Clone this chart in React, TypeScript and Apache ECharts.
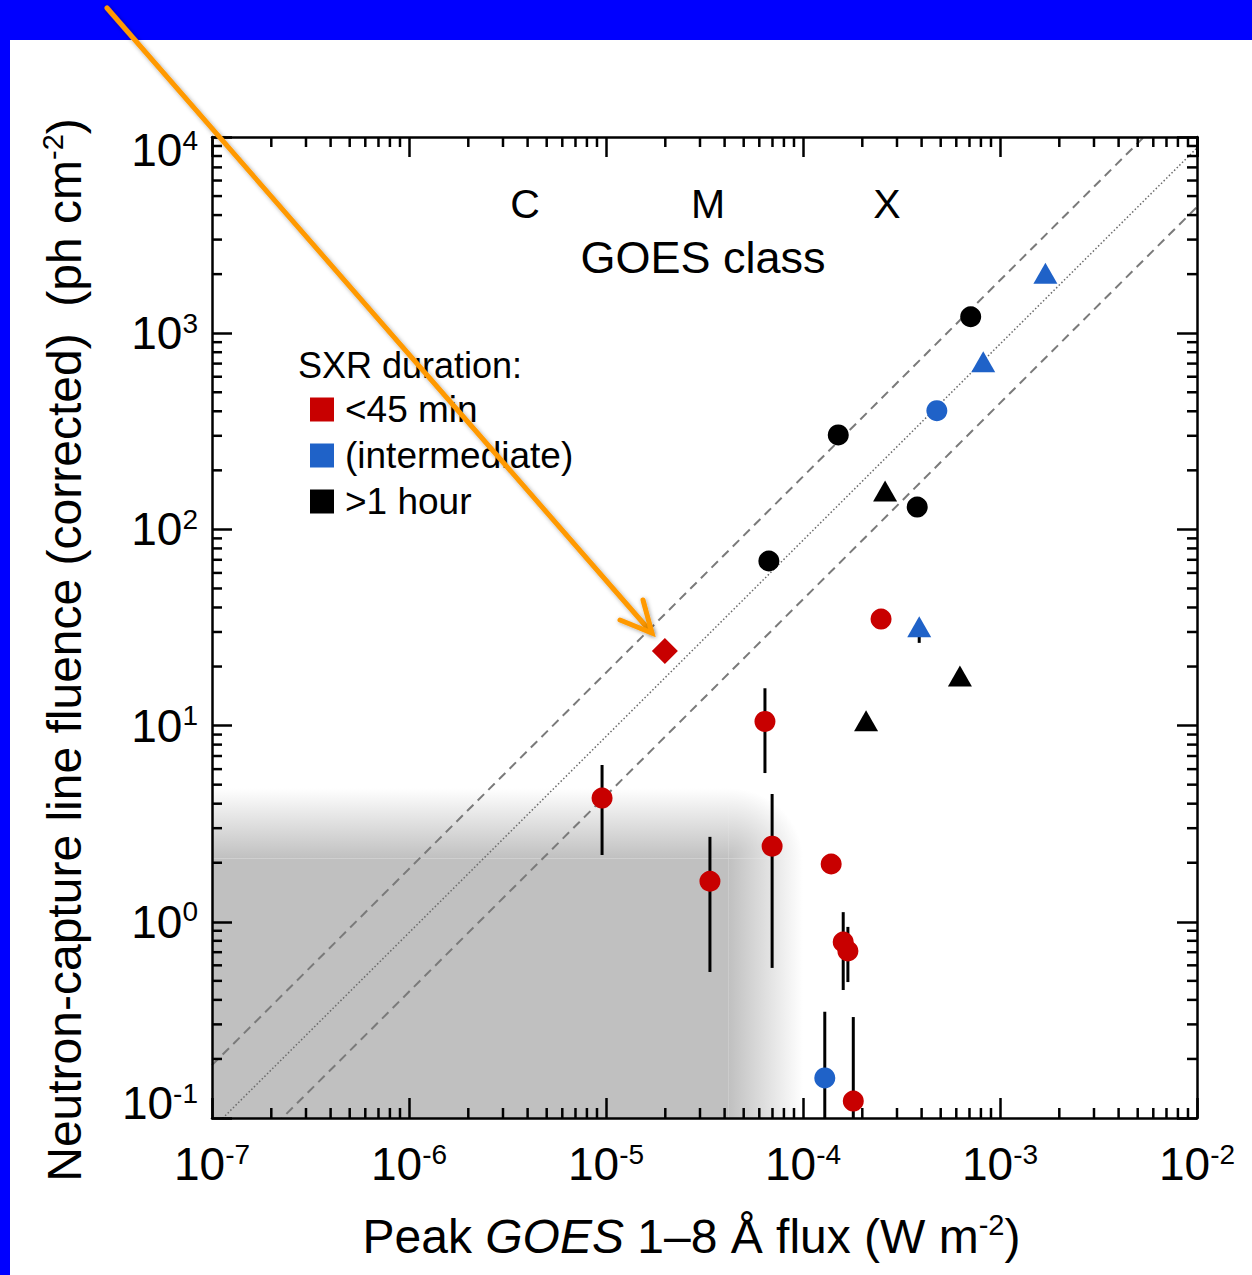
import React, { useEffect, useRef } from "react";
import * as echarts from "echarts";

const FONT = "'Liberation Sans', Arial, Helvetica, sans-serif";

// ---- axes ----
const xMin = 1e-7;
const xMax = 1e-2;
const yMin = 1e-1;
const yMax = 1e4;
const xMajorExponents = [-7, -6, -5, -4, -3, -2];
const yMajorExponents = [-1, 0, 1, 2, 3, 4];
const minorMultipliers = [2, 3, 4, 5, 6, 7, 8, 9];

// ---- legend / series names ----
const seriesNames = ["<45 min", "(intermediate)", ">1 hour"];
const legendTitle = "SXR duration:";
const classLabels = ["C", "M", "X"];
const classTitle = "GOES class";

// ---- data: <45 min (red) ----
const redX = [9.55e-6, 3.37e-5, 6.41e-5, 6.97e-5, 1.39e-4, 1.6e-4, 1.69e-4, 1.8e-4, 2.49e-4, 1.99e-5];
const redY = [4.27, 1.61, 10.5, 2.43, 1.97, 0.789, 0.71, 0.122, 34.9, 24.0];
const redSymbols = ["circle", "circle", "circle", "circle", "circle", "circle", "circle", "circle", "circle", "diamond"];

// ---- data: intermediate (blue) ----
const blueX = [1.29e-4, 4.78e-4, 8.22e-4, 1.7e-3, 3.89e-4];
const blueY = [0.16, 403, 716, 2019, 31.9];
const blueSymbols = ["circle", "circle", "triangle", "triangle", "triangle"];

// ---- data: >1 hour (black) ----
const blackX = [6.71e-5, 1.51e-4, 7.1e-4, 3.8e-4, 2.61e-4, 6.26e-4, 2.09e-4];
const blackY = [69, 303, 1213, 130, 157, 17.9, 10.6];
const blackSymbols = ["circle", "circle", "circle", "circle", "triangle", "triangle", "triangle"];

// ---- error bars ----
const errX = [9.55e-6, 3.37e-5, 6.41e-5, 6.97e-5, 1.6e-4, 1.69e-4, 1.8e-4, 1.29e-4, 3.89e-4];
const errLow = [2.19, 0.555, 5.73, 0.582, 0.449, 0.493, 0.05, 0.05, 26.4];
const errHigh = [6.3, 2.71, 15.5, 4.48, 1.12, 0.942, 0.327, 0.348, 31.9];

// ---- reference lines (endpoints) ----
const refX = [1e-7, 1e-2];
const upperY = [0.186, 18600];
const middleY = [0.088, 8800];
const lowerY = [0.044, 4400];

// ---- shaded detection-limit region ----
const shadeXCore = 4.2e-5;
const shadeXFade = 1.0e-4;
const shadeYCore = 2.1;
const shadeYFade = 4.8;

const RED = "#C80000";
const BLUE = "#1F62C8";
const BLACK = "#000000";
const GRAY = "#c0c0c0";

const symbolSizes: Record<string, any> = {
  circle: 21,
  triangle: [24, 21],
  diamond: [26, 26],
};

const xMinorTicks = xMajorExponents.slice(0, -1).flatMap((e) => minorMultipliers.map((m) => m * Math.pow(10, e)));
const yMinorTicks = yMajorExponents.slice(0, -1).flatMap((e) => minorMultipliers.map((m) => m * Math.pow(10, e)));

const tickRich = {
  b: { fontSize: 46, fontFamily: FONT, color: "#000", lineHeight: 48 },
  s: { fontSize: 28, fontFamily: FONT, color: "#000", lineHeight: 28, verticalAlign: "top" },
  gt: { fontSize: 2, lineHeight: 26 },
  gb: { fontSize: 2, lineHeight: 30 },
};

const expOf = (v: number) => Math.round(Math.log10(v));
const xLabel = (v: number) => `{b|10}{s|${expOf(v)}}`;
const yLabel = (v: number) => {
  const e = expOf(v);
  if (e === yMajorExponents[yMajorExponents.length - 1]) return `{gt| }\n{b|10}{s|${e}}`;
  if (e === yMajorExponents[0]) return `{b|10}{s|${e}}\n{gb| }`;
  return `{b|10}{s|${e}}`;
};

const titleRich = {
  n: { fontSize: 48, fontFamily: FONT, color: "#000", lineHeight: 52 },
  i: { fontSize: 48, fontFamily: FONT, color: "#000", lineHeight: 52, fontStyle: "italic" },
  s: { fontSize: 29, fontFamily: FONT, color: "#000", lineHeight: 29, verticalAlign: "top" },
};

const axisLineStyle = { color: "#000", width: 2.5 };

function makeScatter(name: string, xs: number[], ys: number[], syms: string[], color: string) {
  return {
    type: "scatter",
    name,
    data: xs.map((x, i) => ({ value: [x, ys[i]], symbol: syms[i], symbolSize: symbolSizes[syms[i]] })),
    itemStyle: { color, opacity: 1 },
    z: 6,
    silent: true,
  };
}

function makeRefLine(ys: number[], type: any, width: number, color: string) {
  return {
    type: "line",
    data: refX.map((x, i) => [x, ys[i]]),
    symbol: "none",
    lineStyle: { color, width, type },
    clip: true,
    z: 3,
    silent: true,
  };
}

function buildOption() {
  return {
    animation: false,
    backgroundColor: "#0000FF",
    grid: { left: 212, top: 137, right: 55, bottom: 157, containLabel: false },
    legend: {
      data: seriesNames,
      orient: "vertical",
      left: 305,
      top: 386,
      icon: "rect",
      itemWidth: 24,
      itemHeight: 24,
      itemGap: 9,
      selectedMode: false,
      textStyle: { fontSize: 37, fontFamily: FONT, color: "#000", padding: [0, 0, 0, 6] },
    },
    xAxis: [
      {
        type: "log",
        logBase: 10,
        min: xMin,
        max: xMax,
        splitNumber: 5,
        position: "bottom",
        z: 10,
        axisLine: { show: true, lineStyle: axisLineStyle },
        axisTick: { show: true, inside: true, length: 20, lineStyle: { color: "#000", width: 2.5 } },
        axisLabel: { show: true, margin: 22, formatter: xLabel, rich: tickRich, showMinLabel: true, showMaxLabel: true },
        splitLine: { show: false },
        name: "{n|Peak }{i|GOES}{n| 1–8 Å flux (W m}{s|-2}{n|)}",
        nameLocation: "middle",
        nameGap: 92,
        nameTextStyle: { rich: titleRich, padding: [0, 26, 0, 0] },
      },
      {
        type: "log",
        logBase: 10,
        min: xMin,
        max: xMax,
        splitNumber: 5,
        position: "top",
        z: 10,
        axisLine: { show: true, lineStyle: axisLineStyle },
        axisTick: { show: true, inside: true, length: 20, lineStyle: { color: "#000", width: 2.5 } },
        axisLabel: { show: false },
        splitLine: { show: false },
      },
    ],
    yAxis: [
      {
        type: "log",
        logBase: 10,
        min: yMin,
        max: yMax,
        splitNumber: 5,
        position: "left",
        z: 10,
        axisLine: { show: true, lineStyle: axisLineStyle },
        axisTick: { show: true, inside: true, length: 20, lineStyle: { color: "#000", width: 2.5 } },
        axisLabel: { show: true, margin: 14, formatter: yLabel, rich: tickRich, showMinLabel: true, showMaxLabel: true },
        splitLine: { show: false },
        name: "{n|Neutron-capture line fluence (corrected)  (ph cm}{s|-2}{n|)}",
        nameLocation: "middle",
        nameRotate: 90,
        nameGap: 122,
        nameTextStyle: { rich: titleRich, padding: [0, 45, 0, 0] },
      },
      {
        type: "log",
        logBase: 10,
        min: yMin,
        max: yMax,
        splitNumber: 5,
        position: "right",
        z: 10,
        axisLine: { show: true, lineStyle: axisLineStyle },
        axisTick: { show: true, inside: true, length: 20, lineStyle: { color: "#000", width: 2.5 } },
        axisLabel: { show: false },
        splitLine: { show: false },
      },
    ],
    graphic: [
      { type: "rect", z: -100, shape: { x: 10, y: 40, width: 1242, height: 1235 }, style: { fill: "#ffffff" }, silent: true },
      {
        type: "text",
        x: 298,
        y: 365,
        z: 20,
        style: { text: legendTitle, fontSize: 36, fontFamily: FONT, fill: "#000", align: "left", verticalAlign: "middle", textAlign: "left", textVerticalAlign: "middle" },
      },
      ...classLabels.map((t, i) => ({
        type: "text",
        x: [525, 708, 887][i],
        y: 204,
        z: 20,
        style: { text: t, fontSize: 41, fontFamily: FONT, fill: "#000", align: "center", verticalAlign: "middle", textAlign: "center", textVerticalAlign: "middle" },
      })),
      {
        type: "text",
        x: 703,
        y: 257,
        z: 20,
        style: { text: classTitle, fontSize: 45, fontFamily: FONT, fill: "#000", align: "center", verticalAlign: "middle", textAlign: "center", textVerticalAlign: "middle" },
      },
      {
        type: "polyline",
        z: 100,
        shape: { points: [[107, 8], [651, 632]] },
        style: { stroke: "#FF9900", lineWidth: 5, lineCap: "round", shadowBlur: 4, shadowColor: "rgba(0,0,0,0.35)", shadowOffsetX: 1, shadowOffsetY: 1 },
      },
      {
        type: "polyline",
        z: 100,
        shape: { points: [[620, 620], [652, 633], [643, 600]] },
        style: { stroke: "#FF9900", fill: null, lineWidth: 5, lineCap: "round", lineJoin: "miter", shadowBlur: 4, shadowColor: "rgba(0,0,0,0.35)", shadowOffsetX: 1, shadowOffsetY: 1 },
      },
    ],
    series: [
      {
        type: "custom",
        name: "shade",
        coordinateSystem: "cartesian2d",
        clip: true,
        z: 1,
        silent: true,
        data: [[shadeXCore, shadeYCore, shadeXFade, shadeYFade]],
        encode: { x: [0, 2], y: [1, 3] },
        renderItem: (params: any, api: any) => {
          const cs = params.coordSys;
          const left = cs.x;
          const bottom = cs.y + cs.height;
          const pc = api.coord([api.value(0), api.value(1)]);
          const pf = api.coord([api.value(2), api.value(3)]);
          const clear = "rgba(192,192,192,0)";
          return {
            type: "group",
            children: [
              { type: "rect", shape: { x: left, y: pc[1], width: pc[0] - left, height: bottom - pc[1] }, style: { fill: GRAY } },
              {
                type: "rect",
                shape: { x: pc[0], y: pc[1], width: pf[0] - pc[0], height: bottom - pc[1] },
                style: { fill: new echarts.graphic.LinearGradient(0, 0, 1, 0, [{ offset: 0, color: GRAY }, { offset: 1, color: clear }]) },
              },
              {
                type: "rect",
                shape: { x: left, y: pf[1], width: pc[0] - left, height: pc[1] - pf[1] },
                style: { fill: new echarts.graphic.LinearGradient(0, 1, 0, 0, [{ offset: 0, color: GRAY }, { offset: 1, color: clear }]) },
              },
              {
                type: "rect",
                shape: { x: pc[0], y: pf[1], width: pf[0] - pc[0], height: pc[1] - pf[1] },
                style: { fill: new echarts.graphic.RadialGradient(0, 1, 1, [{ offset: 0, color: GRAY }, { offset: 1, color: clear }]) },
              },
            ],
          };
        },
      },
      {
        type: "custom",
        name: "xMinorTicks",
        coordinateSystem: "cartesian2d",
        z: 8,
        silent: true,
        data: xMinorTicks.map((x) => [x, yMin]),
        renderItem: (params: any, api: any) => {
          const cs = params.coordSys;
          const p = api.coord([api.value(0), api.value(1)]);
          const top = cs.y;
          const bottom = cs.y + cs.height;
          const st = { stroke: "#000", lineWidth: 2.5 };
          return {
            type: "group",
            children: [
              { type: "line", shape: { x1: p[0], y1: bottom, x2: p[0], y2: bottom - 10 }, style: st },
              { type: "line", shape: { x1: p[0], y1: top, x2: p[0], y2: top + 10 }, style: st },
            ],
          };
        },
      },
      {
        type: "custom",
        name: "yMinorTicks",
        coordinateSystem: "cartesian2d",
        z: 8,
        silent: true,
        data: yMinorTicks.map((y) => [xMin, y]),
        renderItem: (params: any, api: any) => {
          const cs = params.coordSys;
          const p = api.coord([api.value(0), api.value(1)]);
          const left = cs.x;
          const right = cs.x + cs.width;
          const st = { stroke: "#000", lineWidth: 2.5 };
          return {
            type: "group",
            children: [
              { type: "line", shape: { x1: left, y1: p[1], x2: left + 10, y2: p[1] }, style: st },
              { type: "line", shape: { x1: right, y1: p[1], x2: right - 10, y2: p[1] }, style: st },
            ],
          };
        },
      },
      makeRefLine(upperY, [9, 6], 2, "#7a7a7a"),
      makeRefLine(middleY, [1.5, 2.2], 1.5, "#6a6a6a"),
      makeRefLine(lowerY, [9, 6], 2, "#7a7a7a"),
      {
        type: "custom",
        name: "errorbars",
        coordinateSystem: "cartesian2d",
        clip: true,
        z: 5,
        silent: true,
        data: errX.map((x, i) => [x, errLow[i], errHigh[i]]),
        encode: { x: 0, y: [1, 2] },
        renderItem: (params: any, api: any) => {
          const x = api.value(0);
          const lo = api.coord([x, api.value(1)]);
          const hi = api.coord([x, api.value(2)]);
          return { type: "line", shape: { x1: lo[0], y1: lo[1], x2: hi[0], y2: hi[1] }, style: { stroke: "#000", lineWidth: 3 } };
        },
      },
      makeScatter(seriesNames[0], redX, redY, redSymbols, RED),
      makeScatter(seriesNames[1], blueX, blueY, blueSymbols, BLUE),
      makeScatter(seriesNames[2], blackX, blackY, blackSymbols, BLACK),
    ],
  };
}

export default function App() {
  const ref = useRef<HTMLDivElement>(null);
  useEffect(() => {
    document.body.style.margin = "0";
    const chart = echarts.init(ref.current as HTMLDivElement, null, { renderer: "svg" });
    chart.setOption(buildOption() as any);
    return () => chart.dispose();
  }, []);
  return <div ref={ref} style={{ position: "fixed", left: 0, top: 0, width: 1252, height: 1275 }} />;
}
